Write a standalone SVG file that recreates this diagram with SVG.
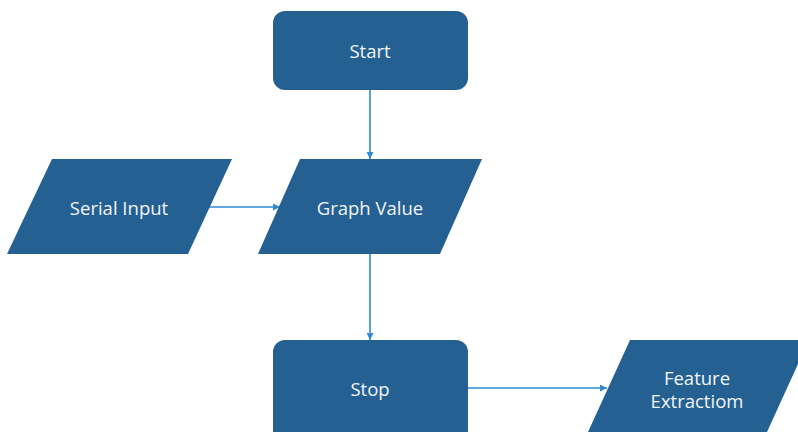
<svg xmlns="http://www.w3.org/2000/svg" width="798" height="432" viewBox="0 0 798 432">
  <style>
    .shape { fill: #246192; }
    .label { fill: #f2f4f7; font-family: "Open Sans", "DejaVu Sans", sans-serif; font-size: 18.5px; text-anchor: middle; dominant-baseline: central; }
    .link { stroke: #2f8ad4; stroke-width: 1.6; fill: none; marker-end: url(#arrow); }
  </style>
  <defs>
    <marker id="arrow" viewBox="0 0 10 10" refX="10" refY="5" markerWidth="8" markerHeight="7" markerUnits="userSpaceOnUse" orient="auto">
      <path d="M0,0 L10,5 L0,10 z" fill="#2f8ad4"/>
    </marker>
  </defs>
  <rect width="798" height="432" fill="#ffffff"/>

  <g id="connectors">
    <line class="link" x1="370" y1="90" x2="370" y2="159"/>
    <line class="link" x1="209" y1="207" x2="280" y2="207"/>
    <line class="link" x1="370" y1="254" x2="370" y2="340"/>
    <line class="link" x1="468" y1="388" x2="607" y2="388"/>
  </g>

  <g id="start">
    <rect class="shape" x="273" y="11" width="195" height="79" rx="12"/>
    <text class="label" x="370" y="50">Start</text>
  </g>

  <g id="serial-input">
    <polygon class="shape" points="52,159 232,159 188,254 7,254"/>
    <text class="label" x="119" y="207">Serial Input</text>
  </g>

  <g id="graph-value">
    <polygon class="shape" points="300,159 482,159 440,254 258,254"/>
    <text class="label" x="370" y="207">Graph Value</text>
  </g>

  <g id="stop">
    <rect class="shape" x="273" y="340" width="195" height="105" rx="12"/>
    <text class="label" x="370" y="388">Stop</text>
  </g>

  <g id="feature-extraction">
    <polygon class="shape" points="630,340 809,340 762,443 583,443"/>
    <text class="label" x="697" y="377">Feature</text>
    <text class="label" x="697" y="400">Extractiom</text>
  </g>
</svg>
